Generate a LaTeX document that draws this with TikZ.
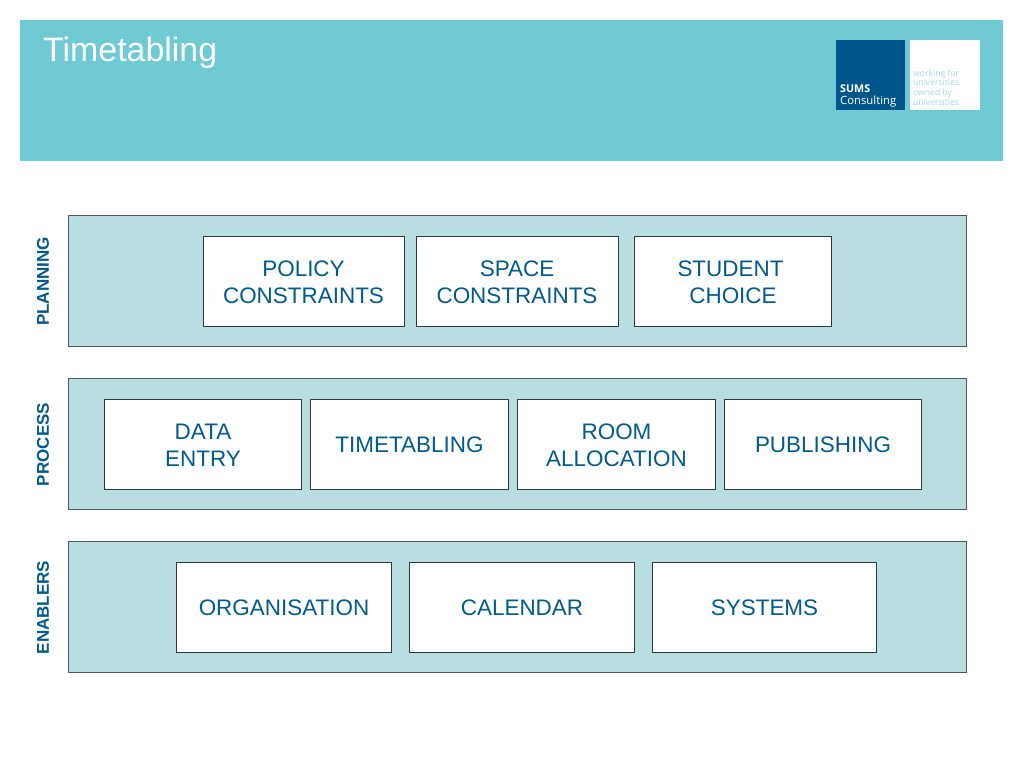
\documentclass[tikz,border=0pt]{standalone}
\usepackage{fontspec}
\setmainfont{Liberation Sans}
\newfontfamily\logofont{Open Sans}
\definecolor{headerteal}{HTML}{6FCAD3}
\definecolor{bandfill}{HTML}{B9DEE2}
\definecolor{bandline}{HTML}{50595D}
\definecolor{navy}{HTML}{005A8B}
\definecolor{boxline}{HTML}{2F3A3E}
\definecolor{logoblue}{HTML}{00558A}
\definecolor{logotint}{HTML}{A5D8DE}
\tikzset{
  x=1pt,y=-1pt,
  band/.style={draw=bandline,line width=1.2pt,fill=bandfill},
  itembox/.style={draw=boxline,line width=1pt,fill=white},
  itemtext/.style={text=navy,align=center,inner sep=0pt,font=\fontsize{22.45}{27.4}\selectfont},
  sidelabel/.style={rotate=90,text=navy,font=\fontsize{17}{20}\selectfont\bfseries,inner sep=0pt},
  logotext/.style={anchor=west,inner sep=0pt,align=left,font=\logofont\fontsize{8.6}{9.7}\selectfont}
}
\newcommand{\itemat}[7]{%
  \draw[itembox] (#2,#3) rectangle (#4-0.3,#5-0.3);
  \node[itemtext] (#1) at (#6,{(#3+#5)/2+0.7}) {#7};
}
\begin{document}
\begin{tikzpicture}
\useasboundingbox (0,0) rectangle (1024,768);
\fill[white] (0,0) rectangle (1024,768);
\fill[headerteal] (20,20) rectangle (1003,161);
\node[anchor=west,text=white,inner sep=0pt,font=\fontsize{33.9}{40}\selectfont] (title) at (43,53) {Timetabling};
% logo
\fill[logoblue] (836,40) rectangle (905,110);
\fill[white] (910,40) rectangle (980,110);
\node[logotext,text=white,font=\logofont\fontsize{10.7}{11}\selectfont\bfseries] (logoa) at (840,89) {SUMS};
\node[logotext,text=white,font=\logofont\fontsize{11.3}{12}\selectfont] (logoc) at (840,101.5) {Consulting};
\node[logotext,text=logotint] (logob) at (913,87.5) {working for\\universities,\\owned by\\universities};
% bands
\draw[band] (68.3,215.3) rectangle (966.8,346.8);
\draw[band] (68.3,378.3) rectangle (966.8,509.8);
\draw[band] (68.3,541.3) rectangle (966.8,672.8);
\node[sidelabel] (planning) at (43,281.5) {PLANNING};
\node[sidelabel] (process) at (43,444.5) {PROCESS};
\node[sidelabel] (enablers) at (43,607.5) {ENABLERS};
% row 1
\itemat{p1}{203}{236}{405}{327}{303.5}{POLICY\\CONSTRAINTS}
\itemat{p2}{416.5}{236}{618.5}{327}{517}{SPACE\\CONSTRAINTS}
\itemat{p3}{634.5}{236}{832}{327}{733}{\mbox{STUDENT\hspace{5pt}}\\CHOICE}
% row 2
\itemat{q1}{104}{399}{302}{490}{203}{DATA\\ENTRY}
\itemat{q2}{310.5}{399}{508.5}{490}{409.5}{TIMETABLING}
\itemat{q3}{517.5}{399}{715.5}{490}{616.5}{ROOM\\ALLOCATION}
\itemat{q4}{724}{399}{922}{490}{823}{PUBLISHING}
% row 3
\itemat{r1}{176}{562}{392}{653}{284}{ORGANISATION}
\itemat{r2}{409.5}{562}{634.5}{653}{522}{CALENDAR}
\itemat{r3}{652.5}{562}{877}{653}{764.5}{SYSTEMS}
\end{tikzpicture}
\end{document}
